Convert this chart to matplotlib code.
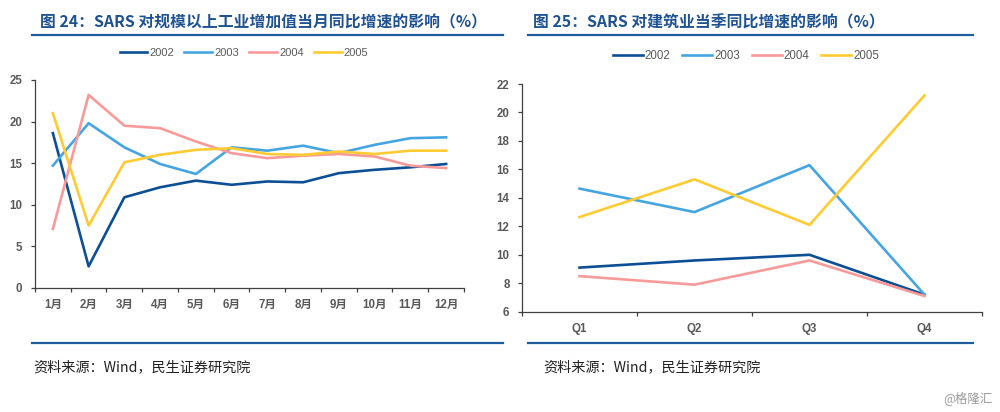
import matplotlib
matplotlib.use("Agg")
import matplotlib.pyplot as plt
from matplotlib.lines import Line2D

plt.rcParams['font.family'] = ['Liberation Sans', 'Noto Sans CJK SC', 'DejaVu Sans']

# left chart: monthly industrial value added growth (%)
months = ["1月", "2月", "3月", "4月", "5月", "6月", "7月", "8月", "9月", "10月", "11月", "12月"]
ind_2002 = [18.6, 2.6, 10.9, 12.1, 12.9, 12.4, 12.8, 12.7, 13.8, 14.2, 14.5, 14.9]
ind_2003 = [14.7, 19.8, 16.9, 14.9, 13.7, 16.9, 16.5, 17.1, 16.2, 17.2, 18.0, 18.1]
ind_2004 = [7.1, 23.2, 19.5, 19.2, 17.6, 16.2, 15.6, 15.9, 16.1, 15.8, 14.7, 14.4]
ind_2005 = [21.0, 7.5, 15.1, 16.0, 16.6, 16.8, 16.1, 16.0, 16.4, 16.1, 16.5, 16.5]

# right chart: quarterly construction growth (%)
quarters = ["Q1", "Q2", "Q3", "Q4"]
con_2002 = [9.1, 9.6, 10.0, 7.2]
con_2003 = [14.65, 13.0, 16.3, 7.2]
con_2004 = [8.5, 7.9, 9.6, 7.1]
con_2005 = [12.65, 15.3, 12.1, 21.2]

years = ["2002", "2003", "2004", "2005"]
colors = ["#0D4F94", "#45A5E0", "#F99A9A", "#FFCB33"]

title_color = "#1F5291"
tick_color = "#595959"
line_color = "#1F5C9C"

fig = plt.figure(figsize=(10, 4.12), dpi=100)


def style_axes(ax, labels, ylim, yticks):
    n = len(labels)
    ax.set_xlim(-0.5, n - 0.5)
    ax.set_ylim(*ylim)
    ax.set_yticks(yticks)
    ax.set_xticks(range(n))
    ax.set_xticklabels(labels)
    ax.set_xticks([i - 0.5 for i in range(n + 1)], minor=True)
    ax.tick_params(axis='x', which='major', length=0, pad=8)
    ax.tick_params(axis='x', which='minor', length=3, width=0.9, color="#404040")
    ax.tick_params(axis='y', length=3, width=0.9, color="#404040", pad=6)
    for lab in ax.get_xticklabels() + ax.get_yticklabels():
        lab.set_fontsize(8.3)
        lab.set_fontweight('bold')
        lab.set_color(tick_color)
    for side in ["top", "right"]:
        ax.spines[side].set_visible(False)
    for side in ["left", "bottom"]:
        ax.spines[side].set_color("#404040")
        ax.spines[side].set_linewidth(0.9)


# left panel
ax1 = fig.add_axes([0.035, 0.301, 0.429, 0.505])
for vals, yr, c in zip([ind_2002, ind_2003, ind_2004, ind_2005], years, colors):
    ax1.plot(range(len(months)), vals, color=c, lw=1.9, label=yr)
style_axes(ax1, months, (0, 25), range(0, 26, 5))
ax1.legend(loc='center', bbox_to_anchor=(0.244, 0.871), bbox_transform=fig.transFigure,
           ncol=4, frameon=False, fontsize=8, handlelength=2.5, handletextpad=0.2,
           columnspacing=0.9, labelcolor=tick_color)

# right panel
ax2 = fig.add_axes([0.522, 0.2434, 0.46, 0.5527])
for vals, yr, c in zip([con_2002, con_2003, con_2004, con_2005], years, colors):
    ax2.plot(range(len(quarters)), vals, color=c, lw=1.9, label=yr)
style_axes(ax2, quarters, (6, 22), range(6, 23, 2))
ax2.legend(loc='center', bbox_to_anchor=(0.746, 0.864), bbox_transform=fig.transFigure,
           ncol=4, frameon=False, fontsize=8.3, handlelength=2.6, handletextpad=0.2,
           columnspacing=1.0, labelcolor=tick_color)

# titles and rules
fig.text(0.263, 1 - 22 / 412, "图 24：SARS 对规模以上工业增加值当月同比增速的影响（%）",
         ha='center', va='center', fontsize=11.4, fontweight='bold', color=title_color,
         family=['Noto Sans CJK SC', 'DejaVu Sans'])
fig.text(0.709, 1 - 22 / 412, "图 25：SARS 对建筑业当季同比增速的影响（%）",
         ha='center', va='center', fontsize=11.4, fontweight='bold', color=title_color,
         family=['Noto Sans CJK SC', 'DejaVu Sans'])

for x0, x1 in [(0.032, 0.503), (0.528, 0.973)]:
    fig.add_artist(Line2D([x0, x1], [1 - 34.5 / 412] * 2, color=line_color, lw=1.6))
    fig.add_artist(Line2D([x0, x1], [1 - 343 / 412] * 2, color=line_color, lw=1.6))

fig.text(0.033, 1 - 367 / 412, "资料来源：Wind，民生证券研究院", ha='left', va='center',
         fontsize=10.2, color="#222222", family=['Noto Sans CJK SC', 'DejaVu Sans'])
fig.text(0.543, 1 - 367 / 412, "资料来源：Wind，民生证券研究院", ha='left', va='center',
         fontsize=10.2, color="#222222", family=['Noto Sans CJK SC', 'DejaVu Sans'])
fig.text(0.993, 1 - 398 / 412, "@格隆汇", ha='right', va='center',
         fontsize=9, color="#9a9a9a", family=['Noto Sans CJK SC', 'DejaVu Sans'])

fig.savefig("out.png", dpi=100)
